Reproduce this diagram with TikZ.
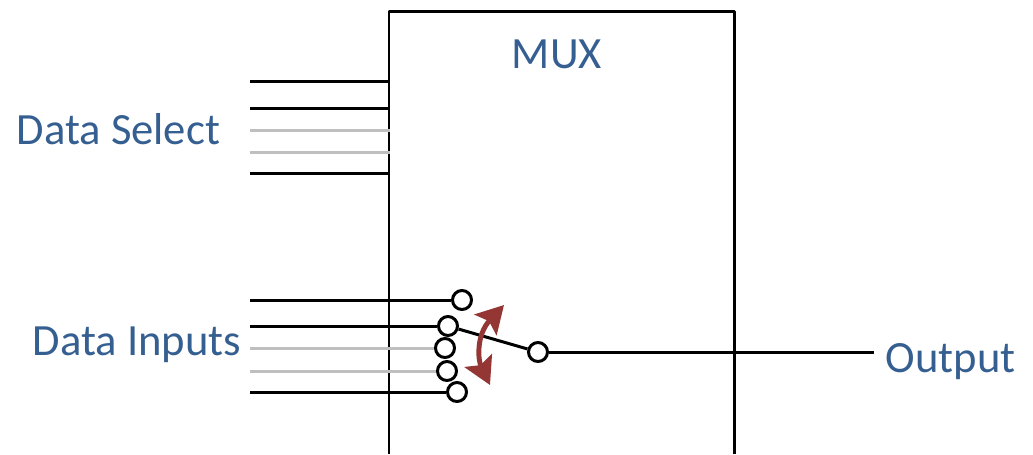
\documentclass[tikz,border=0pt]{standalone}
\usepackage{fontspec}
\setmainfont{Carlito}
\usetikzlibrary{arrows.meta}
\definecolor{labelblue}{HTML}{365F91}
\definecolor{swingred}{HTML}{943634}
\tikzset{
	lbl/.style={text=labelblue, font=\fontsize{12.7}{15}\selectfont, inner sep=0pt},
	wire/.style={line width=0.85pt, black},
	offwire/.style={line width=0.85pt, black!25},
	pin/.style={circle, draw, line width=0.85pt, fill=white, minimum size=0.19cm, inner sep=0pt}
}
\begin{document}
\begin{tikzpicture}[x=0.01cm, y=-0.01cm, line join=round, >={Stealth[length=0.27cm, width=0.3cm, inset=0.05cm]}]
	\useasboundingbox (0,0) rectangle (1033,454);
	% Khung
	\coordinate (boxBL) at (389,454);
	\coordinate (boxTL) at (389,11);
	\coordinate (boxTR) at (734,11);
	\coordinate (boxBR) at (734,454);
	\draw[line width=0.85pt] (boxBL) -- (boxTL) -- (boxTR) -- (boxBR);
	% Data select
	\foreach \name/\y/\sty in {s1/81/wire, s2/108/wire, s3/130/offwire, s4/152/offwire, s5/173/wire}{
		\coordinate (\name a) at (250,\y);
		\coordinate (\name b) at (390,\y);
		\draw[\sty] (\name a) -- (\name b);
	}
	% Data inputs
	\foreach \name/\x/\y/\sty in {i1/462/300/wire, i2/448/326/wire, i3/445/348/offwire, i4/447/371/offwire, i5/457/392/wire}{
		\coordinate (\name a) at (250,\y);
		\node[pin] (\name) at (\x,\y) {};
		\draw[\sty] (\name a) -- (\name);
	}
	% Output
	\node[pin] (sw) at (538,352) {};
	\coordinate (outEnd) at (874,352);
	\draw[wire] (i2) -- (sw);
	\draw[wire] (sw) -- (outEnd);
	% Swing
	\coordinate (swTop) at (504,305);
	\coordinate (swBot) at (490,385);
	\draw[<->, swingred, line width=1.4pt] (swTop) .. controls (476,335) and (478,360) .. (swBot);
	% Labels
	\node[lbl] (mux) at (557,54) {MUX};
	\node[lbl, anchor=west] (sel) at (16,129) {Data Select};
	\node[lbl, anchor=east] (inp) at (242,345) {Data Inputs};
	\node[lbl, anchor=west] (out) at (885,362) {Output};
\end{tikzpicture}
\end{document}
